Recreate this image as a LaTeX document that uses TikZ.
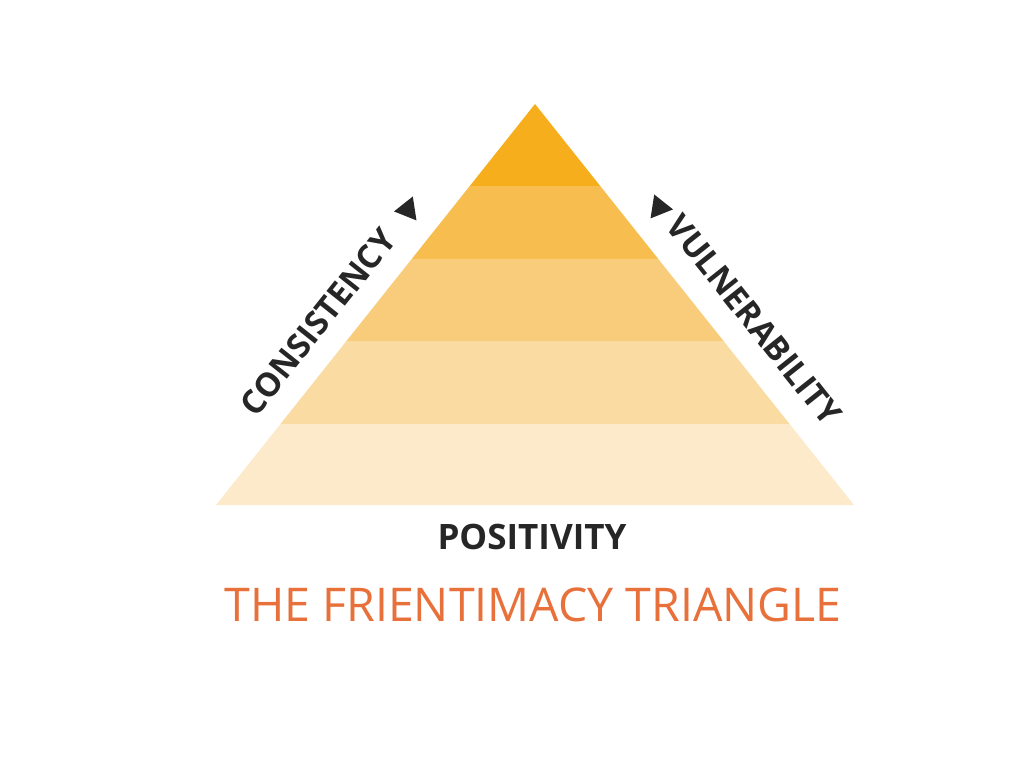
\documentclass[tikz,border=0pt]{standalone}
\usepackage{fontspec}
\setmainfont{Open Sans}
\begin{document}
\begin{tikzpicture}[x=1pt,y=-1pt,
  lbl/.style={font=\fontsize{33}{36}\selectfont\bfseries,text=black!85,inner sep=0pt}]
\definecolor{c1}{HTML}{F6AE1C}\definecolor{c2}{HTML}{F7BE4F}
\definecolor{c3}{HTML}{F8CC7B}\definecolor{c4}{HTML}{FADBA1}
\definecolor{c5}{HTML}{FCEACB}\definecolor{ttl}{HTML}{E8703A}
\useasboundingbox (0,0) rectangle (1024,768);
\foreach \ya/\yb/\c in {104/186/c1,186/259/c2,259/341/c3,341/424/c4,424/505/c5}{
  \fill[\c] ({535-0.7955*(\ya-104)},\ya) -- ({535+0.7955*(\ya-104)},\ya)
     -- ({535+0.7955*(\yb-104)},\yb) -- ({535-0.7955*(\yb-104)},\yb) -- cycle;}
\node[lbl,rotate=51.5] (cons) at (318,322) {CONSISTENCY};
\node[lbl,rotate=-51.5] (vuln) at (754,320) {VULNERABILITY};
\begin{scope}[shift={(409,211)},rotate=-51.5]
  \fill[black!85] (12,0) -- (-9,-12) -- (-9,12) -- cycle;
\end{scope}
\begin{scope}[shift={(658,209)},rotate=51.5]
  \fill[black!85] (-12,0) -- (9,-12) -- (9,12) -- cycle;
\end{scope}
\node[lbl,font=\fontsize{35}{38}\selectfont\bfseries] (pos) at (532,537) {POSITIVITY};
\node[inner sep=0pt,text=ttl,font=\fontsize{46.5}{50}\selectfont] (title) at (533,605) {THE FRIENTIMACY TRIANGLE};
\end{tikzpicture}
\end{document}
